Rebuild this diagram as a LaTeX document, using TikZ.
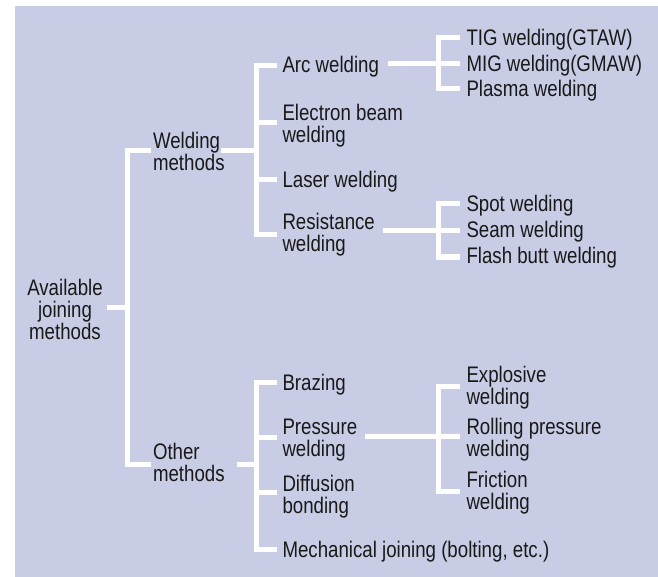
\documentclass[tikz,border=0pt]{standalone}
\usepackage{fontspec}
\setmainfont{Liberation Sans}[FakeStretch=0.83]
\definecolor{bgl}{RGB}{200,205,229}
\definecolor{txt}{RGB}{25,25,25}
\begin{document}
\begin{tikzpicture}[x=1pt,y=-1pt,
  wl/.style={draw=white,line width=5pt,line join=miter},
  lbl/.style={inner sep=0pt,outer sep=0pt,anchor=base west,align=left,text=txt,
    font=\fontsize{22.5}{22}\selectfont},
  rootlbl/.style={lbl,anchor=base,align=center}]
\useasboundingbox (0,0) rectangle (658,577);
\fill[bgl] (15,6) rectangle (658,577);

% texts (multi-line nodes are placed by the baseline of their last line)
\node[rootlbl] (root) at (65,339) {Available\\joining\\methods};
\node[lbl] (wm) at (153,171) {Welding\\methods};
\node[lbl] (om) at (153,481) {Other\\methods};
\node[lbl] (arc) at (282.5,73) {Arc welding};
\node[lbl] (eb) at (282.5,142.5) {Electron beam\\welding};
\node[lbl] (laser) at (282.5,188) {Laser welding};
\node[lbl] (res) at (282.5,251.5) {Resistance\\welding};
\node[lbl] (tig) at (466.5,45.5) {TIG welding(GTAW)};
\node[lbl] (mig) at (466.5,71.5) {MIG welding(GMAW)};
\node[lbl] (plasma) at (466.5,96.5) {Plasma welding};
\node[lbl] (spot) at (466.5,211.5) {Spot welding};
\node[lbl] (seam) at (466.5,237.5) {Seam welding};
\node[lbl] (flash) at (466.5,263.5) {Flash butt welding};
\node[lbl] (braz) at (282.5,390.5) {Brazing};
\node[lbl] (press) at (282.5,456) {Pressure\\welding};
\node[lbl] (diff) at (282.5,513) {Diffusion\\bonding};
\node[lbl] (mech) at (282.5,557) {Mechanical joining (bolting, etc.)};
\node[lbl] (expl) at (466.5,404) {Explosive\\welding};
\node[lbl] (roll) at (466.5,456) {Rolling pressure\\welding};
\node[lbl] (fric) at (466.5,509) {Friction\\welding};

% connectors
\draw[wl] (107,307) -- (127.5,307);
\draw[wl] (151,151) -| (127.5,464) -- (151,464);
\draw[wl] (221,151) -- (256,151);
\draw[wl] (277,66) -| (256,235) -- (277,235);
\draw[wl] (256,122.5) -- (277,122.5);
\draw[wl] (256,180) -- (277,180);
\draw[wl] (388,64) -- (460,64);
\draw[wl] (460,38) -| (438.5,89) -- (460,89);
\draw[wl] (383,230.5) -- (460,230.5);
\draw[wl] (460,204) -| (438.5,257) -- (460,257);
\draw[wl] (237,464) -- (256,464);
\draw[wl] (277,382.5) -| (256,549) -- (277,549);
\draw[wl] (256,437.5) -- (277,437.5);
\draw[wl] (256,492.5) -- (277,492.5);
\draw[wl] (365,436.5) -- (460,436.5);
\draw[wl] (460,386.5) -| (438.5,491.5) -- (460,491.5);
\end{tikzpicture}
\end{document}
